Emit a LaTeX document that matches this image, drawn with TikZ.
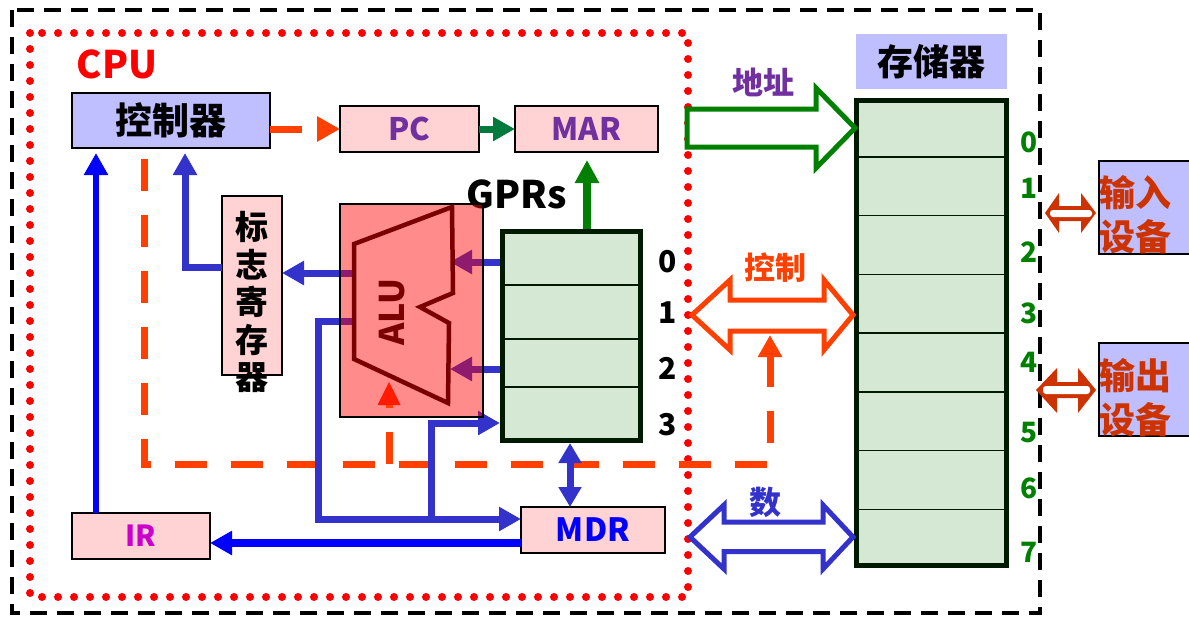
\documentclass[tikz,border=0pt]{standalone}
\usepackage{fontspec}
\setmainfont{Noto Sans CJK SC}
\usetikzlibrary{arrows.meta}
\definecolor{lav}{HTML}{BFBFFF}
\definecolor{pinkf}{HTML}{FFD3D3}
\definecolor{greenf}{HTML}{D5E8D4}
\definecolor{ored}{HTML}{FF4000}
\definecolor{purp}{HTML}{7030A0}
\definecolor{bl}{HTML}{3333CC}
\definecolor{pureblue}{HTML}{0000FF}
\definecolor{dgreen}{HTML}{008000}
\definecolor{tgreen}{HTML}{007A3D}
\definecolor{iocol}{HTML}{CC3300}
\definecolor{alured}{HTML}{7A0000}
\definecolor{magent}{HTML}{CC00CC}
\definecolor{trired}{HTML}{FF1A00}
\definecolor{regline}{HTML}{001A00}
\begin{document}
\begin{tikzpicture}[x=1pt,y=-1pt,
  fs/.style={font=\bfseries\fontsize{#1}{#1}\selectfont},
  box/.style={draw=black,line width=1.5pt,inner sep=0pt,outer sep=0pt},
  pinkbox/.style={box,fill=pinkf},
  lavbox/.style={box,fill=lav},
  regbox/.style={draw=regline,line width=5pt,fill=greenf,inner sep=0pt,outer sep=2.5pt},
  tipa/.style={-{Triangle[length=22pt,width=23pt]}},
  bline/.style={draw=bl,line width=7pt,tipa},
  pbline/.style={draw=pureblue,line width=7pt,tipa},
  odash/.style={draw=ored,line width=7pt,dash pattern=on 32pt off 24pt},
  cell/.style={draw=regline,line width=1.5pt},
  blockarrow/.style={line width=5pt,fill=white,line join=miter},
]
\useasboundingbox (0,0) rectangle (1189,616);
\fill[white] (0,0) rectangle (1189,616);

% outer system frame and CPU frame
\draw[black,line width=4pt,dash pattern=on 17pt off 10pt] (12,10) rectangle (1040,613);
\draw[red,line width=8pt,line cap=round,dash pattern=on 0pt off 16pt] (30,33) rectangle (688,597);

% boxes
\node[lavbox,minimum width=198pt,minimum height=55pt,fs=37] (ctrl) at (171,120.5) {控制器};
\node[pinkbox,minimum width=139pt,minimum height=46pt,fs=31,text=purp] (pc) at (409.5,129) {PC};
\node[pinkbox,minimum width=143pt,minimum height=46pt,fs=31,text=purp] (mar) at (586.5,129) {MAR};
\node[pinkbox,minimum width=60pt,minimum height=179pt] (flag) at (252,285.5) {};
\node[font=\bfseries\fontsize{33}{37.5}\selectfont,align=center,inner sep=0pt] (flagtxt) at (252,302) {标\\志\\寄\\存\\器};
\node[regbox,minimum width=138pt,minimum height=209pt] (gpr) at (571.5,336) {};
\foreach \yy in {285,339,387} \draw[cell] (502.5,\yy) -- (640.5,\yy);
\node[pinkbox,minimum width=144pt,minimum height=46pt,fs=32,text=pureblue] (mdr) at (593,530) {MDR};
\node[pinkbox,minimum width=138pt,minimum height=46pt,fs=29,text=magent] (ir) at (141,536) {IR};

\node[fill=lav,minimum width=151pt,minimum height=55pt,inner sep=0pt,fs=36] (meml) at (931.5,61.5) {存储器};
\node[regbox,minimum width=150pt,minimum height=465pt] (mem) at (931.5,333) {};
\foreach \k in {1,...,7} \draw[cell] (856.5,{98+\k*58.75}) -- (1006.5,{98+\k*58.75});

\node[lavbox,minimum width=100pt,minimum height=93pt] (indev) at (1149,207.5) {};
\node[anchor=west,align=left,text=iocol,font=\bfseries\fontsize{36}{44}\selectfont,inner sep=0pt] (intxt) at (1099,215) {输入\\设备};
\node[lavbox,minimum width=100pt,minimum height=93pt] (outdev) at (1149,389.5) {};
\node[anchor=west,align=left,text=iocol,font=\bfseries\fontsize{36}{44}\selectfont,inner sep=0pt] (outtxt) at (1099,397.5) {输出\\设备};

% labels
\node[fs=38,text=red] (cpu) at (117,64) {CPU};
\node[fs=38] (gprl) at (517,194) {GPRs};
\foreach \n/\yy in {0/262,1/313,2/368,3/425} \node[fs=30] (g\n) at (668,\yy) {\n};
\foreach \n/\yy in {0/142,1/188,2/252,3/313,4/362,5/433,6/488,7/552} \node[fs=28,text=dgreen] (m\n) at (1029,\yy) {\n};

% control (dashed) lines, below the blue lines
\coordinate (cp) at (270,129);
\draw[odash,-{Triangle[length=23pt,width=24pt]}] (cp) -- (cp -| pc.west);
\coordinate (d0) at (144,159);
\coordinate (d1) at (144,464);
\coordinate (d2) at (770,464);
\coordinate (d3) at (770,335);
\draw[odash,-{Triangle[length=22pt,width=23pt]}] (d0) -- (d1) -- (d2) -- (d3);

% green connectors
\draw[tgreen,line width=7pt,tipa] (pc.east) -- (mar.west);
\coordinate (gm) at (587,229);
\draw[dgreen,line width=8pt,-{Triangle[length=23pt,width=23pt]},shorten >=8pt] (gm) -- (gm |- mar.south);

% blue connectors
\coordinate (ao1) at (354,273);
\draw[bline] (ao1) -- (ao1 -| flag.east);
\coordinate (fl) at (222,267);
\coordinate (fc) at (185,153);
\draw[draw=bl,line width=7pt,tipa] (fl) -| (fc);
\coordinate (irup) at (96,513);
\draw[draw=pureblue,line width=6pt,tipa,shorten >=5pt] (irup) -- (irup |- ctrl.south);
\coordinate (r0) at (500,262);
\coordinate (r2) at (500,369);
\draw[bline] (r0) -- ++(-50,0);
\draw[bline] (r2) -- ++(-50,0);
\coordinate (ao2) at (354,321);
\coordinate (cn) at (318,519);
\draw[bline] (ao2) -| (cn) -- (cn -| mdr.west);
\coordinate (br) at (431,519);
\coordinate (g3in) at (500,423);
\draw[bline] (br) |- (g3in);
\draw[draw=bl,line width=7pt,{Triangle[length=20pt,width=22pt]}-{Triangle[length=20pt,width=22pt]}] (gpr.south -| 570,0) -- (mdr.north -| 570,0);
\coordinate (m2) at (521,543);
\draw[pbline,line width=8pt] (m2) -- (m2 -| ir.east);

% ALU
\node[fill=red,fill opacity=0.455,minimum width=143pt,minimum height=213pt,inner sep=0pt,outer sep=0pt] (alu) at (411.5,310.5) {};
\draw[black,line width=2pt] (alu.south west) rectangle (alu.north east);
\draw[alured,line width=4.5pt,line join=miter] (354,244) -- (452,207) -- (453,293) -- (420,307) -- (449,323) -- (448,403) -- (354,359) -- cycle;
\node[fs=34,text=alured,rotate=90] (alut) at (392,312) {ALU};
\coordinate (d4) at (389,464);
\coordinate (d5) at (389,382);
\draw[odash,shorten >=23pt] (d4) -- (d5);
\fill[trired] (d5) -- ++(11.5,23) -- ++(-23,0) -- cycle;

% buses
\draw[blockarrow,draw=dgreen] (687,109) -- (816,109) -- (816,88) -- (855,128) -- (816,168) -- (816,147) -- (687,147) -- cycle;
\node[fs=31,text=purp] (addr) at (763,82) {地址};
\draw[blockarrow,draw=ored] (692,315) -- (730,280) -- (730,300) -- (824,300) -- (824,280) -- (853,315) -- (824,350) -- (824,331) -- (730,331) -- (730,350) -- cycle;
\node[fs=31,text=ored] (ctl) at (775,268) {控制};
\draw[blockarrow,draw=bl] (690,537) -- (724,505) -- (724,522) -- (823,522) -- (823,505) -- (853,537) -- (823,569) -- (823,551.5) -- (724,551.5) -- (724,569) -- cycle;
\node[fs=32,text=bl] (dat) at (765,502) {数};

% I/O arrows
\fill[iocol] (1045,213) -- (1059,193) -- (1059,206) -- (1081,206) -- (1081,193) -- (1096,213) -- (1081,233) -- (1081,221) -- (1059,221) -- (1059,233) -- cycle;
\fill[white,rounded corners=3pt] (1050,210) rectangle (1092,217);
\fill[iocol] (1036,390) -- (1057,368) -- (1057,382) -- (1078,382) -- (1078,368) -- (1096,390) -- (1078,413) -- (1078,398) -- (1057,398) -- (1057,413) -- cycle;
\fill[white,rounded corners=3pt] (1043,386) rectangle (1090,394);
\end{tikzpicture}
\end{document}
